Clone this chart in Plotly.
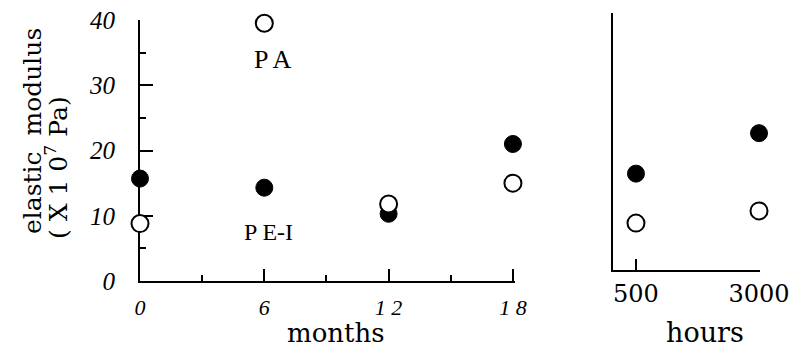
import plotly.graph_objects as go

# Data
months = [0, 6, 12, 18]
month_labels = ["0", "6", "1 2", "1 8"]
pa_months = [8.8, 39.5, 11.8, 15.0]      # open circles
pei_months = [15.7, 14.3, 10.3, 21.0]    # filled circles

hours = [500, 3000]
hour_labels = ["500", "3000"]
pa_hours = [7.3, 9.2]
pei_hours = [15.0, 21.3]

y_ticks = [0, 10, 20, 30, 40]

SERIF = "DejaVu Serif"
LSERIF = "Liberation Serif"

fig = go.Figure()

open_marker = dict(symbol="circle", size=17, color="white", line=dict(color="black", width=2))
filled_marker = dict(symbol="circle", size=17, color="black", line=dict(color="black", width=1))

fig.add_trace(go.Scatter(x=months, y=pei_months, mode="markers", marker=filled_marker,
                         xaxis="x", yaxis="y", cliponaxis=False, showlegend=False))
fig.add_trace(go.Scatter(x=months, y=pa_months, mode="markers", marker=open_marker,
                         xaxis="x", yaxis="y", cliponaxis=False, showlegend=False))
fig.add_trace(go.Scatter(x=hours, y=pei_hours, mode="markers", marker=filled_marker,
                         xaxis="x2", yaxis="y2", cliponaxis=False, showlegend=False))
fig.add_trace(go.Scatter(x=hours, y=pa_hours, mode="markers", marker=open_marker,
                         xaxis="x2", yaxis="y2", cliponaxis=False, showlegend=False))

# page body has an 8px margin: the figure starts at (8, 8) in the window
OX, OY = 8, 8
W, H = 811 - OX, 349 - OY
# overall plot area in window pixels
PL, PR, PT, PB = 140, 760, 13, 281
L, R, T, B = PL - OX, (W + OX) - PR, PT - OY, (H + OY) - PB
pw = PR - PL
ph = PB - PT

def px_x(p):
    return (p - PL) / pw

def px_y(p):
    return (PB - p) / ph

fig.update_layout(
    width=W, height=H,
    margin=dict(l=L, r=R, t=T, b=B, autoexpand=False),
    paper_bgcolor="white", plot_bgcolor="white",
    xaxis=dict(domain=[0, px_x(515)], range=[0, 18.1], showgrid=False, zeroline=False,
               showline=True, linecolor="black", linewidth=2, automargin=False,
               tickmode="array", tickvals=months, ticktext=month_labels,
               ticks="inside", ticklen=12, tickwidth=2, tickcolor="black",
               minor=dict(ticks="inside", ticklen=6, tickwidth=2, tickcolor="black",
                          tickmode="array", tickvals=[3, 9, 15]),
               tickfont=dict(family=LSERIF, size=22, color="black", style="italic"),
               ticklabelstandoff=6, ticklabeloverflow="allow", layer="below traces"),
    yaxis=dict(domain=[0, px_y(20)], range=[0, 40], showgrid=False, zeroline=False,
               showline=True, linecolor="black", linewidth=2, automargin=False,
               tickmode="array", tickvals=y_ticks,
               ticks="inside", ticklen=13, tickwidth=2, tickcolor="black",
               minor=dict(ticks="inside", ticklen=6, tickwidth=2, tickcolor="black",
                          tickmode="array", tickvals=[5, 15, 25, 35]),
               tickfont=dict(family=LSERIF, size=25, color="black", style="italic"),
               ticklabelstandoff=18, ticklabeloverflow="allow", layer="below traces"),
    xaxis2=dict(domain=[px_x(613), 1], range=[33, 3020], anchor="y2", showgrid=False, zeroline=False,
                showline=True, linecolor="black", linewidth=2, automargin=False,
                tickmode="array", tickvals=hours, ticktext=hour_labels,
                ticks="inside", ticklen=11, tickwidth=2, tickcolor="black",
                tickfont=dict(family=SERIF, size=24, color="black"),
                ticklabelstandoff=1, ticklabeloverflow="allow", layer="below traces"),
    yaxis2=dict(domain=[px_y(270), 1], range=[0, 40], anchor="x2", showgrid=False, zeroline=False,
                showline=True, linecolor="black", linewidth=2, automargin=False,
                showticklabels=False, ticks="", layer="below traces"),
)

annotations = [
    dict(text="P A", x=6.4, y=34, xref="x", yref="y", showarrow=False,
         font=dict(family=LSERIF, size=26, color="black")),
    dict(text="P E-I", x=6.2, y=7.5, xref="x", yref="y", showarrow=False,
         font=dict(family=LSERIF, size=24, color="black")),
    dict(text="months", x=px_x(336), y=px_y(333), xref="paper", yref="paper", showarrow=False,
         font=dict(family=SERIF, size=26, color="black"), xanchor="center", yanchor="middle"),
    dict(text="hours", x=px_x(705), y=px_y(332), xref="paper", yref="paper", showarrow=False,
         font=dict(family=SERIF, size=27, color="black"), xanchor="center", yanchor="middle"),
    dict(text="elastic  modulus", x=px_x(32), y=px_y(131), xref="paper", yref="paper",
         showarrow=False, textangle=-90,
         font=dict(family=SERIF, size=25, color="black"), xanchor="center", yanchor="middle"),
    dict(text="( X 1 0<sup>7</sup> Pa)", x=px_x(56), y=px_y(167), xref="paper", yref="paper",
         showarrow=False, textangle=-90,
         font=dict(family=SERIF, size=25, color="black"), xanchor="center", yanchor="middle"),
]
fig.update_layout(annotations=annotations)

fig.write_html("out.html")
